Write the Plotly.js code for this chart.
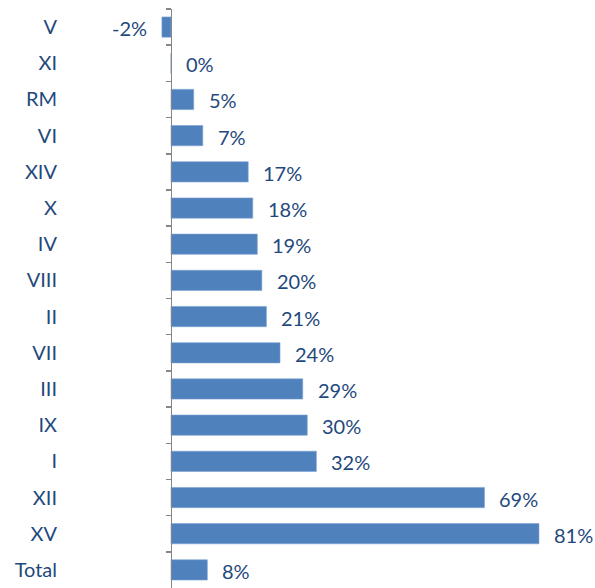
<!DOCTYPE html>
<html>
<head>
<meta charset="utf-8">
<script src="https://cdn.plot.ly/plotly-3.0.1.min.js"></script>
<style>html,body{margin:0;padding:0;background:#fff;}#chart{width:595px;height:588px;}</style>
</head>
<body>
<div id="chart"></div>
<script>
const categories = ["V","XI","RM","VI","XIV","X","IV","VIII","II","VII","III","IX","I","XII","XV","Total"];
const values = [-2,0,5,7,17,18,19,20,21,24,29,30,32,69,81,8];
const valueLabels = values.map(v => v + "%");

const barColor = "#4f81bd";
const textColor = "#1f497d";
const fontFamily = "Lato, 'Open Sans', sans-serif";

const xmin = -23.55, xmax = 93.33;

const traces = [
  {
    type: "bar",
    orientation: "h",
    x: values,
    y: categories,
    marker: {color: barColor, line: {color: "#7fa3d3", width: 0.6}},
    hoverinfo: "skip",
    xaxis: "x", yaxis: "y"
  },
  {
    type: "scatter",
    mode: "none",
    x: values.map(() => 0),
    y: categories,
    hoverinfo: "skip",
    showlegend: false,
    xaxis: "x", yaxis: "y2"
  }
];

const annotations = values.map((v, i) => ({
  x: v, y: categories[i], xref: "x", yref: "y",
  text: valueLabels[i], showarrow: false,
  xanchor: v < 0 ? "right" : "left",
  xshift: v < 0 ? -13 : 13,
  yshift: -1,
  font: {family: fontFamily, size: 20, color: textColor}
}));

const layout = {
  width: 595, height: 588,
  margin: {l: 64, r: 0, t: 9, b: 0},
  paper_bgcolor: "#ffffff", plot_bgcolor: "#ffffff",
  showlegend: false,
  bargap: 0.44,
  xaxis: {range: [xmin, xmax], visible: false, showgrid: false, zeroline: false, fixedrange: true},
  yaxis: {
    type: "category", categoryorder: "array", categoryarray: categories,
    range: [15.5, -0.5],
    showline: false, ticks: "", showgrid: false, zeroline: false,
    ticklabelstandoff: 6,
    tickfont: {family: fontFamily, size: 20, color: textColor}
  },
  yaxis2: {
    type: "category", categoryorder: "array", categoryarray: categories,
    range: [15.5, -0.5],
    overlaying: "y", anchor: "free", side: "left",
    position: (0 - xmin) / (xmax - xmin),
    showticklabels: false, showgrid: false, zeroline: false,
    showline: true, linecolor: "#868686", linewidth: 1.5,
    ticks: "outside", tickson: "boundaries", ticklen: 5, tickcolor: "#868686", tickwidth: 1.5
  },
  annotations: annotations
};

Plotly.newPlot("chart", traces, layout, {displayModeBar: false, staticPlot: true});
</script>
</body>
</html>
